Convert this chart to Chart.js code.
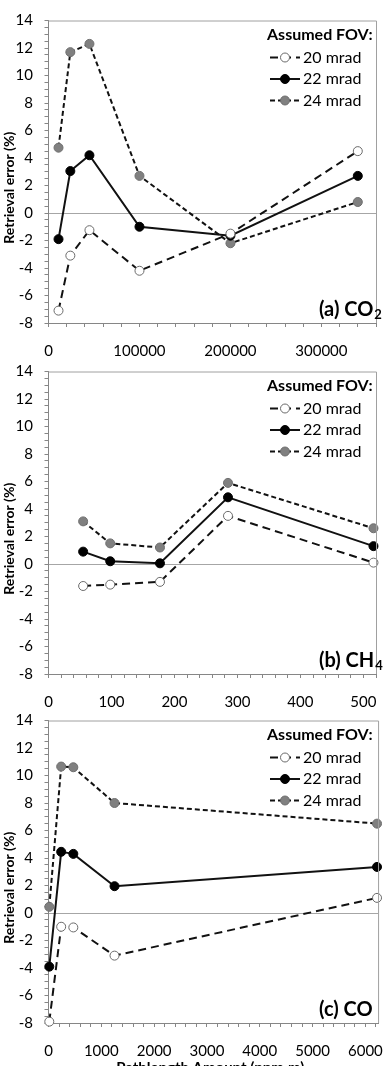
<!DOCTYPE html>
<html>
<head>
<meta charset="utf-8">
<script src="https://cdn.jsdelivr.net/npm/chart.js@4.4.1/dist/chart.umd.min.js"></script>
<style>
  html, body { margin: 0; padding: 0; background: #fff; overflow: hidden; }
  #wrap { position: relative; width: 391px; height: 1066px; overflow: hidden; }
  canvas { position: absolute; left: 0; }
</style>
</head>
<body>
<div id="wrap">
  <canvas id="co2" width="391" height="360" style="top:0px"></canvas>
  <canvas id="ch4" width="391" height="360" style="top:351px"></canvas>
  <canvas id="co" width="391" height="380" style="top:700px"></canvas>
</div>
<script>
// legend / axis texts
var fovLabels = ['20 mrad', '22 mrad', '24 mrad'];
var legendTitle = 'Assumed FOV:';
var yTitle = 'Retrieval error (%)';
var xTitle = 'Pathlength Amount (ppm·m)';

// y tick labels (same for all three panels)
var yTickLabels = ['-8', '-6', '-4', '-2', '0', '2', '4', '6', '8', '10', '12', '14'];

// (a) CO2
var co2X = [11000, 24000, 45000, 100000, 200000, 340000];
var co2Fov20 = [-7.1, -3.1, -1.25, -4.2, -1.5, 4.5];
var co2Fov22 = [-1.9, 3.05, 4.2, -1.0, -1.65, 2.7];
var co2Fov24 = [4.75, 11.7, 12.3, 2.7, -2.2, 0.8];
var co2XTicks = ['0', '100000', '200000', '300000'];

// (b) CH4
var ch4X = [55, 98, 177, 285, 516];
var ch4Fov20 = [-1.6, -1.5, -1.3, 3.5, 0.1];
var ch4Fov22 = [0.9, 0.2, 0.05, 4.85, 1.3];
var ch4Fov24 = [3.1, 1.5, 1.2, 5.9, 2.6];
var ch4XTicks = ['0', '100', '200', '300', '400', '500'];

// (c) CO
var coX = [15, 240, 470, 1250, 6220];
var coFov20 = [-7.9, -1.0, -1.05, -3.1, 1.1];
var coFov22 = [-3.9, 4.45, 4.3, 1.95, 3.35];
var coFov24 = [0.45, 10.65, 10.6, 8.0, 6.5];
var coXTicks = ['0', '1000', '2000', '3000', '4000', '5000', '6000'];

// line / marker style per FOV
var fovStyles = [
  { dash: [8, 5], fill: '#ffffff', edge: '#6a6a6a' },
  { dash: [], fill: '#000000', edge: '#000000' },
  { dash: [5, 3], fill: '#808080', edge: '#6e6e6e' }
];

Chart.defaults.font.family = 'Lato';
Chart.defaults.color = '#000';

// ticks every step (minor ticks too), labels only where listed
function stepTicks(min, max, step) {
  return function(s) {
    var t = [];
    for (var i = 0; min + i * step <= max + 1e-9; i++) {
      t.push({ value: Math.round((min + i * step) * 1000) / 1000 });
    }
    s.ticks = t;
  };
}

// border, legend, panel label, axis titles
var deco = {
  id: 'deco',
  afterDraw: function(chart, args, opt) {
    var ctx = chart.ctx, a = chart.chartArea;
    ctx.save();
    ctx.strokeStyle = '#a0a0a0';
    ctx.lineWidth = 1;
    ctx.beginPath();
    ctx.moveTo(a.left, a.top + 0.5);
    ctx.lineTo(a.right + 0.5, a.top + 0.5);
    ctx.lineTo(a.right + 0.5, a.bottom);
    ctx.stroke();

    // legend
    ctx.fillStyle = '#000';
    ctx.textAlign = 'left';
    ctx.textBaseline = 'middle';
    ctx.font = 'bold 16px Lato';
    ctx.fillText(legendTitle, 267, a.top + 14);
    ctx.font = '16px Lato';
    chart.data.datasets.forEach(function(ds, i) {
      var y = a.top + 37 + i * 21.5;
      ctx.setLineDash(ds.borderDash);
      ctx.strokeStyle = ds.borderColor;
      ctx.lineWidth = ds.borderWidth;
      ctx.beginPath();
      ctx.moveTo(270, y);
      ctx.lineTo(300, y);
      ctx.stroke();
      ctx.setLineDash([]);
      ctx.beginPath();
      ctx.arc(285, y, 4.5, 0, Math.PI * 2);
      ctx.fillStyle = ds.pointBackgroundColor;
      ctx.fill();
      ctx.lineWidth = 1;
      ctx.strokeStyle = ds.pointBorderColor;
      ctx.stroke();
      ctx.fillStyle = '#000';
      ctx.fillText(ds.label, 303, y);
    });

    // panel label
    ctx.textBaseline = 'alphabetic';
    ctx.font = 'bold 20px Lato';
    var lx = 319, ly = a.bottom - 7.5;
    ctx.fillText(opt.label, lx, ly);
    if (opt.sub) {
      var w = ctx.measureText(opt.label).width;
      ctx.font = 'bold 13px Lato';
      ctx.fillText(opt.sub, lx + w + 1, ly + 3);
    }

    // y title
    ctx.save();
    ctx.translate(9, a.top + a.height / 2 + 16);
    ctx.rotate(-Math.PI / 2);
    ctx.textAlign = 'center';
    ctx.textBaseline = 'middle';
    ctx.font = 'bold 14px Lato';
    ctx.fillText(yTitle, 0, 0);
    ctx.restore();

    if (opt.xTitle) {
      ctx.textAlign = 'center';
      ctx.font = 'bold 15px Lato';
      ctx.fillText(xTitle, (a.left + a.right) / 2 - 3, a.bottom + 50);
    }
    ctx.restore();
  }
};

function makePanel(id, xs, series, xMax, xStep, xTicks, label, sub, withXTitle) {
  var cv = document.getElementById(id);
  var h = cv.height;
  var sets = series.map(function(vals, i) {
    var st = fovStyles[i];
    return {
      label: fovLabels[i],
      data: xs.map(function(x, j) { return { x: x, y: vals[j] }; }),
      borderColor: '#111',
      borderWidth: 2,
      borderDash: st.dash,
      pointRadius: 4.5,
      pointHoverRadius: 4.5,
      pointBackgroundColor: st.fill,
      pointBorderColor: st.edge,
      pointBorderWidth: 1,
      tension: 0,
      clip: false
    };
  });

  new Chart(cv, {
    type: 'line',
    data: { datasets: sets },
    options: {
      responsive: false,
      animation: false,
      events: [],
      layout: { padding: { top: 17, right: 3, left: 0, bottom: 0 } },
      plugins: {
        legend: { display: false },
        tooltip: { enabled: false },
        deco: { label: label, sub: sub, xTitle: withXTitle }
      },
      scales: {
        x: {
          type: 'linear',
          min: 0,
          max: xMax,
          afterBuildTicks: stepTicks(0, xMax, xStep),
          afterFit: function(s) { s.height = h - 323; },
          border: { display: true, color: '#868686', width: 1 },
          grid: { drawOnChartArea: false, tickLength: 4, tickColor: '#868686' },
          ticks: {
            autoSkip: false,
            maxRotation: 0,
            minRotation: 0,
            padding: 15,
            font: { size: 15 },
            callback: function(v) { return xTicks.indexOf(String(v)) >= 0 ? String(v) : ''; }
          }
        },
        y: {
          min: -8,
          max: 14,
          afterBuildTicks: stepTicks(-8, 14, 0.5),
          afterFit: function(s) { s.width = 48.5; },
          border: { display: true, color: '#868686', width: 1 },
          grid: {
            tickLength: 4,
            tickColor: '#868686',
            color: function(c) { return c.tick && c.tick.value === 0 ? '#a6a6a6' : 'rgba(0,0,0,0)'; }
          },
          ticks: {
            autoSkip: false,
            padding: 11.5,
            font: { size: 15 },
            callback: function(v) { return yTickLabels.indexOf(String(v)) >= 0 ? String(v) : ''; }
          }
        }
      }
    },
    plugins: [deco]
  });
}

makePanel('co2', co2X, [co2Fov20, co2Fov22, co2Fov24], 360000, 20000, co2XTicks, '(a) CO', '2', false);
makePanel('ch4', ch4X, [ch4Fov20, ch4Fov22, ch4Fov24], 520, 20, ch4XTicks, '(b) CH', '4', false);
makePanel('co', coX, [coFov20, coFov22, coFov24], 6240, 200, coXTicks, '(c) CO', '', true);
</script>
</body>
</html>
